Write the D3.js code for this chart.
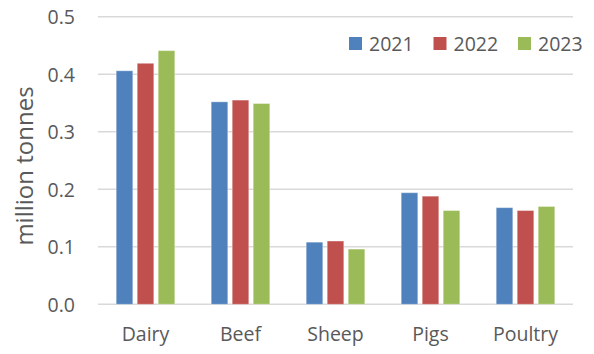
<!DOCTYPE html>
<html>
<head>
<meta charset="utf-8">
<script src="https://cdn.jsdelivr.net/npm/d3@7"></script>
<style>
  body { margin: 0; background: #fff; }
  text { font-family: "Open Sans", sans-serif; fill: #595959; }
</style>
</head>
<body>
<div id="canvas"></div>
<script>
"use strict"

/* Data */
let categories = ["Dairy", "Beef", "Sheep", "Pigs", "Poultry"];
let years = ["2021", "2022", "2023"];
let values2021 = [0.406, 0.352, 0.108, 0.194, 0.168];
let values2022 = [0.419, 0.355, 0.110, 0.188, 0.163];
let values2023 = [0.441, 0.349, 0.096, 0.163, 0.170];
let yTicks = [0.0, 0.1, 0.2, 0.3, 0.4, 0.5];
let colors = ["#4F81BD", "#C0504D", "#9BBB59"];

/* Drawing config */
let svgWidth = 594;
let svgHeight = 354;
let plotLeft = 98, plotRight = 573;
let plotTop = 16.7, plotBottom = 304.3;

let svg = d3.select("#canvas")
    .append("svg")
    .attr("width", svgWidth)
    .attr("height", svgHeight);

let series = [values2021, values2022, values2023];

/* Scales */
let x0 = d3.scaleBand()
    .domain(categories)
    .range([plotLeft, plotRight])
    .padding(0);

let x1 = d3.scaleBand()
    .domain(years)
    .range([18.2, 76.8])
    .paddingInner(0.21)
    .paddingOuter(0);

let yScale = d3.scaleLinear()
    .domain([0, 0.5])
    .range([plotBottom, plotTop]);

/* Gridlines */
svg.append("g")
    .selectAll("line")
    .data(yTicks)
    .join("line")
    .attr("x1", plotLeft)
    .attr("x2", plotRight)
    .attr("y1", d => yScale(d))
    .attr("y2", d => yScale(d))
    .attr("stroke", "#d9d9d9")
    .attr("stroke-width", 1.5);

/* Y tick labels */
svg.append("g")
    .selectAll("text")
    .data(yTicks)
    .join("text")
    .attr("x", 75)
    .attr("y", d => yScale(d))
    .attr("text-anchor", "end")
    .attr("dominant-baseline", "central")
    .attr("font-size", 19.5)
    .text(d => d.toFixed(1));

/* Bars */
let bars = [];
categories.forEach(function(cat, i) {
    years.forEach(function(yr, j) {
        bars.push({cat: cat, year: yr, value: series[j][i], color: colors[j]});
    });
});

svg.append("g")
    .selectAll("rect")
    .data(bars)
    .join("rect")
    .attr("x", d => x0(d.cat) + x1(d.year))
    .attr("y", d => yScale(d.value))
    .attr("width", x1.bandwidth())
    .attr("height", d => yScale(0) - yScale(d.value))
    .attr("fill", d => d.color)
    .attr("stroke", "#ffffff")
    .attr("stroke-opacity", 0.35)
    .attr("stroke-width", 1);

/* Category labels */
svg.append("g")
    .selectAll("text")
    .data(categories)
    .join("text")
    .attr("x", d => x0(d) + x0.bandwidth() / 2)
    .attr("y", 341)
    .attr("text-anchor", "middle")
    .attr("font-size", 19.5)
    .text(d => d);

/* Y axis title */
svg.append("text")
    .attr("transform", "translate(33,166) rotate(-90)")
    .attr("text-anchor", "middle")
    .attr("font-size", 24)
    .text("million tonnes");

/* Legend */
let legendX = [349, 433.5, 518];
let legend = svg.append("g")
    .selectAll("g")
    .data(years)
    .join("g")
    .attr("transform", (d, i) => "translate(" + legendX[i] + ",37)");

legend.append("rect")
    .attr("width", 13)
    .attr("height", 13)
    .attr("fill", (d, i) => colors[i]);

legend.append("text")
    .attr("x", 20)
    .attr("y", 6.5)
    .attr("dominant-baseline", "central")
    .attr("font-size", 19.5)
    .text(d => d);
</script>
</body>
</html>
